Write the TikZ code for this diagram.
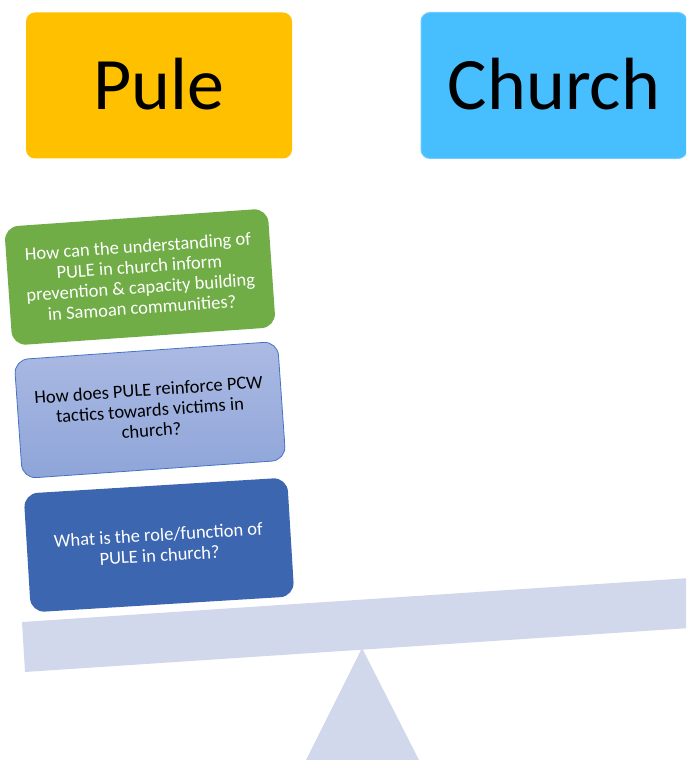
\documentclass[tikz,border=0pt]{standalone}
\usepackage{fontspec}
\setmainfont{Carlito}
\begin{document}
\begin{tikzpicture}[x=1pt,y=1pt,
  header/.style={rounded corners=9pt, minimum width=266pt, minimum height=146pt,
    font=\fontsize{74}{80}\selectfont, text=black, inner sep=0pt},
  question/.style={rounded corners=14pt, minimum width=264pt, minimum height=119pt,
    font=\fontsize{18.5}{20.5}\selectfont, align=center, inner sep=0pt, rotate=4},
  seesaw/.style={fill=beamc, draw=none}
]
\definecolor{pulec}{HTML}{FFC000}
\definecolor{churchc}{HTML}{47BFFF}
\definecolor{greenq}{HTML}{70AD47}
\definecolor{lighttop}{HTML}{ACBAE3}
\definecolor{lightbot}{HTML}{8EA5D9}
\definecolor{lightedge}{HTML}{4472C4}
\definecolor{darkq}{HTML}{3D66B1}
\definecolor{beamc}{HTML}{D1D8EB}
\useasboundingbox (0,0) rectangle (686,760);
\begin{scope}
\clip (0,0) rectangle (686,760);
% fulcrum and tilted plank
\fill[seesaw] (362,112) -- (420,-2) -- (305,-2) -- cycle;
\fill[seesaw] (22,138) -- (25,88) -- (720,134) -- (720,184) -- cycle;
% headings
\node[header, fill=pulec] (pule) at (159,674.5) {\raisebox{3pt}{Pule}};
\node[header, fill=churchc, draw=churchc!80!white, line width=1pt] (church) at (554,674.5) {\raisebox{3pt}{Church}};
% questions stacked on the plank
\node[question, fill=greenq, text=white] (q3) at (140,483)
  {How can the understanding of\\PULE in church inform\\prevention \& capacity building\\in Samoan communities?};
\node[question, top color=lighttop, bottom color=lightbot, draw=lightedge, line width=0.8pt, text=black] (q2) at (150,350)
  {How does PULE reinforce PCW\\tactics towards victims in\\church?};
\node[question, fill=darkq, text=white, rotate=-0.5] (q1) at (159,215)
  {What is the role/function of\\PULE in church?};
\end{scope}
\end{tikzpicture}
\end{document}
